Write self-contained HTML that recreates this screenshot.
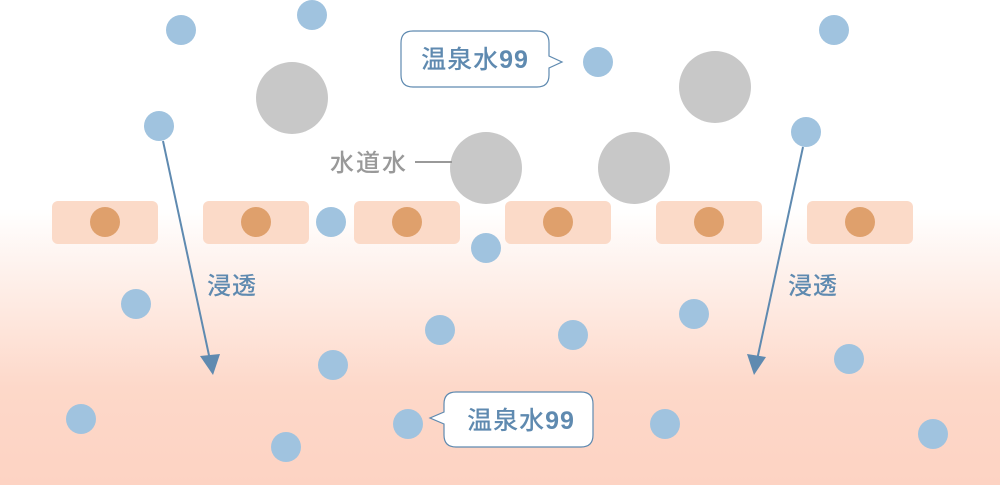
<!DOCTYPE html>
<html><head><meta charset="utf-8"><style>
html,body{margin:0;padding:0;width:1000px;height:485px;overflow:hidden;background:#fff}
text{font-family:"Liberation Sans","Noto Sans CJK JP",sans-serif;font-weight:500}
</style></head><body>
<svg width="1000" height="485" viewBox="0 0 1000 485" xmlns="http://www.w3.org/2000/svg">
<defs>
<linearGradient id="g" x1="0" y1="0" x2="0" y2="1">
<stop offset="0" stop-color="#fff"/>
<stop offset="0.43" stop-color="#fff"/>
<stop offset="0.8" stop-color="#fdd8c9"/>
<stop offset="1" stop-color="#fdd3c3"/>
</linearGradient>
</defs>
<rect width="1000" height="485" fill="url(#g)"/>
<g fill="#fbdac8">
<rect x="52" y="201" width="106" height="43" rx="6"/>
<rect x="203" y="201" width="106" height="43" rx="6"/>
<rect x="354" y="201" width="106" height="43" rx="6"/>
<rect x="505" y="201" width="106" height="43" rx="6"/>
<rect x="656" y="201" width="106" height="43" rx="6"/>
<rect x="807" y="201" width="106" height="43" rx="6"/>
</g>
<g fill="#dfa06c">
<circle cx="105" cy="222" r="15"/><circle cx="256" cy="222" r="15"/><circle cx="407" cy="222" r="15"/>
<circle cx="558" cy="222" r="15"/><circle cx="709" cy="222" r="15"/><circle cx="860" cy="222" r="15"/>
</g>
<g fill="#c8c8c8">
<circle cx="292" cy="98" r="36"/><circle cx="715" cy="87" r="36"/>
<circle cx="486" cy="168" r="36"/><circle cx="634" cy="168" r="36"/>
</g>
<g fill="#a0c3df">
<circle cx="181" cy="30" r="15"/><circle cx="312" cy="15" r="15"/><circle cx="159" cy="126" r="15"/>
<circle cx="331" cy="222" r="15"/><circle cx="486" cy="248" r="15"/><circle cx="598" cy="62" r="15"/>
<circle cx="834" cy="30" r="15"/><circle cx="806" cy="132" r="15"/><circle cx="136" cy="304" r="15"/>
<circle cx="440" cy="330" r="15"/><circle cx="573" cy="335" r="15"/><circle cx="694" cy="314" r="15"/>
<circle cx="849" cy="359" r="15"/><circle cx="333" cy="365" r="15"/><circle cx="81" cy="419" r="15"/>
<circle cx="286" cy="447" r="15"/><circle cx="408" cy="424" r="15"/><circle cx="665" cy="424" r="15"/>
<circle cx="933" cy="434" r="15"/>
</g>
<g stroke="#5f8ab0" stroke-width="2" fill="#5f8ab0">
<line x1="163" y1="141" x2="210" y2="360"/>
<polygon points="213,375 200,356 220,354" stroke="none"/>
<line x1="803" y1="147" x2="757" y2="360"/>
<polygon points="754,375 747,354 766,357" stroke="none"/>
</g>
<text x="207" y="294" font-size="24" fill="#5f8ab0" letter-spacing="1">浸透</text>
<text x="788" y="294" font-size="24" fill="#5f8ab0" letter-spacing="1">浸透</text>
<text x="330" y="171" font-size="24" fill="#999" letter-spacing="2">水道水</text>
<line x1="415" y1="162" x2="452" y2="162" stroke="#999" stroke-width="2"/>
<path d="M413,31 H537 Q549,31 549,43 V56 L562,62 L549,68 V75 Q549,87 537,87 H413 Q401,87 401,75 V43 Q401,31 413,31 Z" fill="#fff" stroke="#5f8ab0" stroke-width="1.2"/>
<text x="475" y="68" font-size="25" fill="#5f8ab0" text-anchor="middle" letter-spacing="1">温泉水<tspan font-weight="bold">99</tspan></text>
<path d="M456,392 H581 Q593,392 593,404 V435 Q593,447 581,447 H456 Q444,447 444,435 V424 L430,418 L444,412 V404 Q444,392 456,392 Z" fill="#fff" stroke="#5f8ab0" stroke-width="1.2"/>
<text x="521" y="429" font-size="25" fill="#5f8ab0" text-anchor="middle" letter-spacing="1">温泉水<tspan font-weight="bold">99</tspan></text>
</svg>
</body></html>
